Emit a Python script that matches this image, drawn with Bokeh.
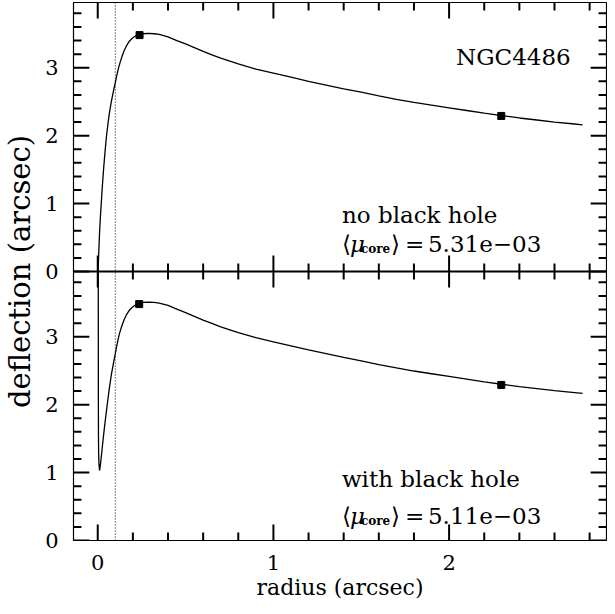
import numpy as np
from bokeh.plotting import figure
from bokeh.models import (Range1d, LinearAxis, FixedTicker,
                          CustomJSTickFormatter, Span, Label)
from bokeh.embed import file_html
from bokeh.resources import INLINE

# ---------------- data ----------------
# upper panel: no black hole
r_nobh = [0.002, 0.006, 0.010, 0.015, 0.020, 0.026, 0.033, 0.041, 0.050, 0.058,
          0.065, 0.072, 0.078, 0.085, 0.092, 0.100, 0.107, 0.114, 0.122, 0.130,
          0.140, 0.150, 0.165, 0.180, 0.195, 0.210, 0.225, 0.240, 0.260, 0.290,
          0.320, 0.350, 0.400, 0.450, 0.500, 0.550, 0.600, 0.650, 0.700, 0.800,
          0.900, 1.000, 1.100, 1.200, 1.300, 1.400, 1.500, 1.600, 1.700, 1.800,
          1.900, 2.000, 2.100, 2.200, 2.300, 2.400, 2.500, 2.600, 2.700, 2.760]
d_nobh = [0.00, 0.30, 0.55, 0.80, 1.00, 1.25, 1.50, 1.75, 2.00, 2.17,
          2.31, 2.42, 2.51, 2.60, 2.69, 2.78, 2.87, 2.95, 3.03, 3.10,
          3.18, 3.25, 3.33, 3.39, 3.43, 3.46, 3.48, 3.49, 3.50, 3.505,
          3.50, 3.49, 3.455, 3.40, 3.35, 3.295, 3.24, 3.19, 3.14, 3.055,
          2.98, 2.92, 2.86, 2.80, 2.745, 2.69, 2.64, 2.585, 2.535, 2.49,
          2.45, 2.41, 2.37, 2.33, 2.295, 2.26, 2.23, 2.20, 2.175, 2.16]
# lower panel: with black hole
r_bh = [0.003, 0.0035, 0.004, 0.005, 0.007, 0.010, 0.013, 0.018, 0.025, 0.031,
        0.042, 0.054, 0.066, 0.078, 0.090, 0.100, 0.107, 0.115, 0.122, 0.130,
        0.140, 0.150, 0.165, 0.180, 0.195, 0.210, 0.225, 0.240, 0.260, 0.290,
        0.320, 0.350, 0.400, 0.450, 0.500, 0.550, 0.600, 0.650, 0.700, 0.800,
        0.900, 1.000, 1.100, 1.200, 1.300, 1.400, 1.500, 1.600, 1.700, 1.800,
        1.900, 2.000, 2.100, 2.200, 2.300, 2.400, 2.500, 2.600, 2.700, 2.760]
d_bh = [3.96, 2.20, 1.60, 1.30, 1.12, 1.03, 1.07, 1.18, 1.35, 1.50,
        1.75, 2.00, 2.24, 2.45, 2.62, 2.75, 2.85, 2.95, 3.03, 3.10,
        3.18, 3.25, 3.33, 3.39, 3.43, 3.46, 3.48, 3.495, 3.505, 3.51,
        3.505, 3.495, 3.46, 3.405, 3.355, 3.30, 3.245, 3.195, 3.145, 3.06,
        2.985, 2.925, 2.865, 2.805, 2.75, 2.695, 2.645, 2.59, 2.54, 2.495,
        2.455, 2.415, 2.375, 2.335, 2.30, 2.265, 2.235, 2.205, 2.18, 2.165]
# square markers
mark_r_nobh = [0.238, 2.297]
mark_d_nobh = [3.48, 2.29]
mark_r_bh = [0.236, 2.297]
mark_d_bh = [3.48, 2.29]
# vertical dotted line
r_core = 0.1
# texts
galaxy = "NGC4486"
label_nobh = "no black hole"
label_bh = "with black hole"
mu_nobh = "5.31e\u221203"
mu_bh = "5.11e\u221203"
# ticks
x_major = [0, 1, 2]
y_major = [0, 1, 2, 3]

# ---------------- layout constants ----------------
YMAX = 3.96          # visible height of each panel
X0, X1 = -0.138, 2.896
FONT = "DejaVu Serif"
W, H = 607, 606
BL, BR, BT, BB = 68, 1, 2, 66
MAJ, MIN = 16, 8     # tick lengths in px

p = figure(width=W, height=H, output_backend="svg", toolbar_location=None,
           x_range=Range1d(X0, X1), y_range=Range1d(0, 2 * YMAX),
           x_axis_location=None, y_axis_location=None,
           min_border_left=BL, min_border_right=BR, min_border_top=BT,
           min_border_bottom=BB)
p.extra_y_ranges = {"top": Range1d(-YMAX, YMAX)}
p.grid.visible = False
p.outline_line_color = "black"
p.outline_line_width = 1.2
p.background_fill_color = "white"
p.border_fill_color = "white"

DX = (X1 - X0) / (W - BL - BR)
DY = (2 * YMAX) / (H - BT - BB)

x_minor = [round(0.2 * i, 1) for i in range(0, 15) if round(0.2 * i, 1) not in x_major]
y_minor = [round(0.2 * i, 1) for i in range(1, 20) if round(0.2 * i, 1) not in y_major]


def label_axis(ax):
    ax.axis_line_color = None
    ax.major_tick_in = 0
    ax.major_tick_out = 0
    ax.minor_tick_in = 0
    ax.minor_tick_out = 0
    ax.major_tick_line_color = None
    ax.minor_tick_line_color = None
    ax.major_label_text_font = FONT
    ax.major_label_text_font_size = "21px"
    ax.major_label_text_color = "black"
    ax.axis_label_text_font = FONT
    ax.axis_label_text_font_style = "normal"
    ax.axis_label_text_color = "black"
    return ax


xb = label_axis(LinearAxis(ticker=FixedTicker(ticks=x_major), axis_label="radius (arcsec)"))
xb.major_label_standoff = 14
xb.axis_label_standoff = 2
xb.axis_label_text_font_size = "22px"
p.add_layout(xb, "below")

y_ticks_all = y_major + [t + YMAX for t in y_major]
yfmt = CustomJSTickFormatter(args=dict(Y=YMAX),
                             code="const v = tick > Y - 0.5 ? tick - Y : tick; return Math.round(v).toFixed(0);")
yl = label_axis(LinearAxis(ticker=FixedTicker(ticks=y_ticks_all), formatter=yfmt,
                           axis_label="deflection (arcsec)"))
yl.major_label_standoff = 15
yl.axis_label_standoff = 5
yl.axis_label_text_font_size = "29px"
p.add_layout(yl, "left")

# --- y ticks on the left and right edges: NaN-broken polylines
paths = {"default": ([], []), "top": ([], [])}
for vals, ln in ((y_major, MAJ), (y_minor, MIN)):
    for v in vals:
        for rng in ("default", "top"):
            xs, ys = paths[rng]
            xs.extend([X0, X0 + ln * DX, np.nan, X1, X1 - ln * DX, np.nan])
            ys.extend([v, v, np.nan, v, v, np.nan])
for rng, (xs, ys) in paths.items():
    p.line(np.array(xs), np.array(ys), y_range_name=rng,
           line_color="black", line_width=2)

# --- x ticks on the bottom edge, the separator and the top edge: same construction
xpaths = {"default": ([], []), "top": ([], [])}
for vals, ln in ((x_major, MAJ), (x_minor, MIN)):
    for v in vals:
        xs, ys = xpaths["default"]
        xs.extend([v, v, np.nan, v, v, np.nan])
        ys.extend([0, ln * DY, np.nan, YMAX, YMAX - ln * DY, np.nan])
        xs, ys = xpaths["top"]
        xs.extend([v, v, np.nan, v, v, np.nan])
        ys.extend([YMAX, YMAX - ln * DY, np.nan, 0, ln * DY, np.nan])
for rng, (xs, ys) in xpaths.items():
    p.line(np.array(xs), np.array(ys), y_range_name=rng,
           line_color="black", line_width=2)

# separator between the two panels
p.add_layout(Span(location=YMAX, dimension="width", line_color="black", line_width=2))

# dotted core radius
p.add_layout(Span(location=r_core, dimension="height", line_color="black",
                  line_width=1, line_dash="1 2"))

# curves
p.line(r_nobh, d_nobh, y_range_name="top", line_color="black", line_width=1.3)
p.scatter(mark_r_nobh, mark_d_nobh, y_range_name="top", marker="square", size=7,
          fill_color="black", line_color="black")
p.line(r_bh, d_bh, line_color="black", line_width=1.3)
p.scatter(mark_r_bh, mark_d_bh, marker="square", size=7,
          fill_color="black", line_color="black")


def add_text(txt, x, y, rng, size="23px", style="normal", xoff=0, yoff=0):
    p.add_layout(Label(x=x, y=y, y_range_name=rng, text=txt, x_offset=xoff,
                       y_offset=yoff, text_font=FONT, text_font_size=size,
                       text_font_style=style, text_color="black",
                       text_align="left", text_baseline="alphabetic"))


def mu_line(x, y, rng, val):
    add_text("\u27e8", x, y, rng)
    add_text("\u03bc", x, y, rng, style="italic", xoff=8)
    add_text("core", x, y, rng, size="12px", style="bold", xoff=19, yoff=-5)
    add_text("\u27e9", x, y, rng, xoff=49)
    add_text("=", x, y, rng, xoff=63)
    add_text(val, x, y, rng, xoff=86)


add_text(galaxy, 2.04, 3.16, "top")
add_text(label_nobh, 1.39, 0.83, "top")
mu_line(1.39, 0.41, "top", mu_nobh)
add_text(label_bh, 1.39, 0.90, "default")
mu_line(1.39, 0.36, "default", mu_bh)

open("out.html", "w").write(file_html(p, INLINE))
